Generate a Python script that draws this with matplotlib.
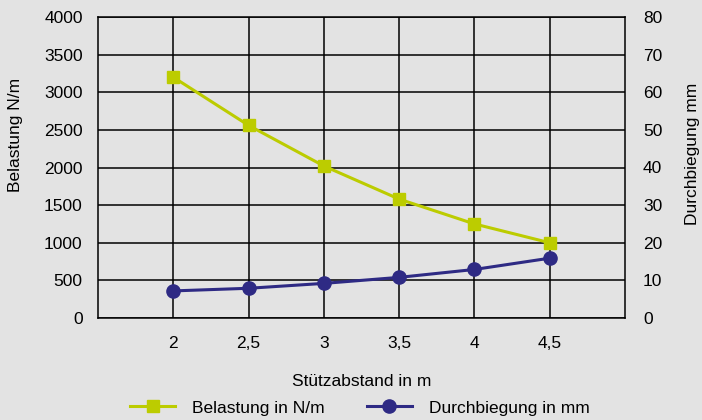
import matplotlib
matplotlib.use("Agg")
import matplotlib.pyplot as plt
from matplotlib.lines import Line2D

categories = ["2", "2,5", "3", "3,5", "4", "4,5"]
belastung = [3200, 2560, 2020, 1580, 1250, 1000]
durchbiegung = [7.2, 7.9, 9.2, 10.8, 12.9, 15.9]
left_ticks = [0, 500, 1000, 1500, 2000, 2500, 3000, 3500, 4000]
right_ticks = [0, 10, 20, 30, 40, 50, 60, 70, 80]

plt.rcParams['font.family'] = ['Liberation Sans', 'DejaVu Sans']
BG = "#e3e3e3"
GREEN = "#bccc00"
BLUE = "#2e2a84"
FS = 12.5

fig = plt.figure(figsize=(7.02, 4.2), dpi=100, facecolor=BG)
ax = fig.add_axes([98/702, 1-318/420, (625-98)/702, (318-17)/420])
ax.set_facecolor(BG)
x = list(range(len(categories)))
ax.set_xlim(-1, len(categories))
ax.set_ylim(0, 4000)
ax.set_yticks(left_ticks)
ax.set_xticks(x)
ax.set_xticklabels(categories)
ax.grid(True, color="black", linewidth=1.1)
ax.set_axisbelow(True)
for s in ax.spines.values():
    s.set_color("black"); s.set_linewidth(1.1)
ax.tick_params(length=0, labelsize=FS, colors="black", pad=11)
ax.tick_params(axis='x', pad=13)

ax2 = ax.twinx()
ax2.set_ylim(0, 80)
ax2.set_yticks(right_ticks)
ax2.tick_params(length=0, labelsize=FS, colors="black", pad=13)
for s in ax2.spines.values():
    s.set_visible(False)

l1, = ax.plot(x, belastung, color=GREEN, lw=2.2, marker="s", ms=8, zorder=5, clip_on=False)
l2, = ax2.plot(x, durchbiegung, color=BLUE, lw=2.2, marker="o", ms=9.5, zorder=5, clip_on=False)

fig.text(16/702, 1-135/420, "Belastung N/m", rotation=90, ha="center", va="center", fontsize=FS)
fig.text(692/702, 1-154/420, "Durchbiegung mm", rotation=90, ha="center", va="center", fontsize=FS)
fig.text(362/702, 1-382/420, "Stützabstand in m", ha="center", va="center", fontsize=FS)

h1 = Line2D([], [], color=GREEN, lw=2.2, marker="s", ms=8)
h2 = Line2D([], [], color=BLUE, lw=2.2, marker="o", ms=9.5)
fig.legend([h1, h2], ["Belastung in N/m", "Durchbiegung in mm"], loc="center",
           bbox_to_anchor=(360/702, 1-408/420), ncol=2, frameon=False, fontsize=FS,
           handlelength=2.6, columnspacing=2.4, handletextpad=1.0)

fig.savefig("out.png", dpi=100, facecolor=BG)
